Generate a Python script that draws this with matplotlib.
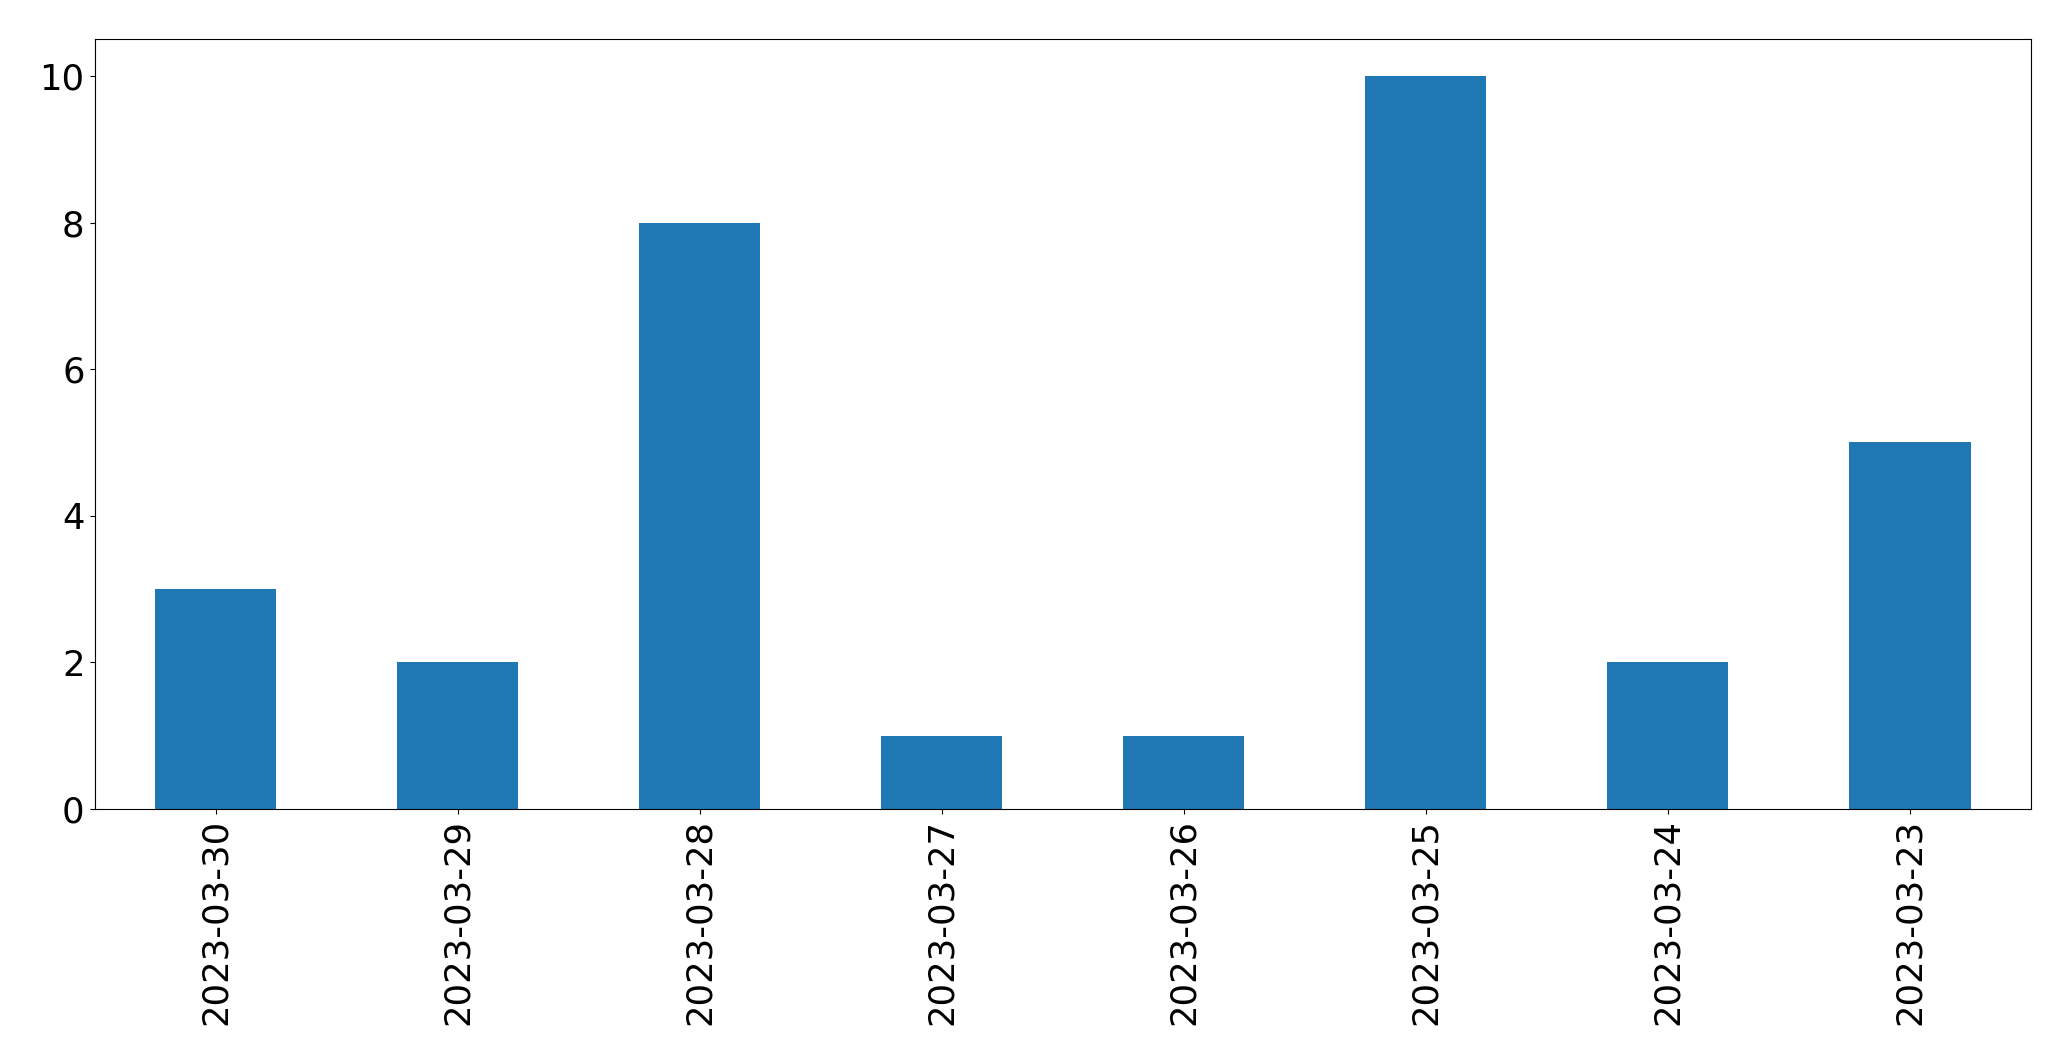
import matplotlib
matplotlib.use("Agg")
import matplotlib.pyplot as plt

DATES  = ["2023-03-30", "2023-03-29", "2023-03-28", "2023-03-27",
          "2023-03-26", "2023-03-25", "2023-03-24", "2023-03-23"]
COUNTS = [3, 2, 8, 1, 1, 10, 2, 5]

FS = 25.5

fig = plt.figure(figsize=(20.71, 10.61), dpi=100)
ax = fig.add_axes([0.0457, 0.2375, 0.935, 0.7255])

x = list(range(len(DATES)))
ax.bar(x, COUNTS, width=0.5, color="#1f77b4")
ax.set_xticks(x)
ax.set_xticklabels(DATES, rotation=90, fontsize=FS)
ax.set_xlim(-0.5, len(DATES) - 0.5)
ax.set_ylim(0, 10.5)
ax.set_yticks([0, 2, 4, 6, 8, 10])
ax.tick_params(axis="y", labelsize=FS)
ax.tick_params(length=3.8)

plt.savefig("out.png", dpi=100)
